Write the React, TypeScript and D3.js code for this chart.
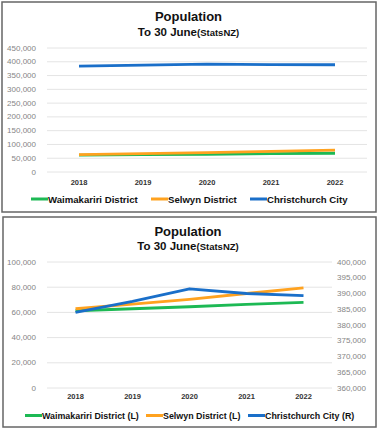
import React from "react";
import * as d3 from "d3";

const years = ["2018", "2019", "2020", "2021", "2022"];
const waimakariri = [61300, 62900, 64500, 66400, 68000];
const selwyn = [62900, 66500, 70400, 75000, 79400];
const christchurch = [384000, 387500, 391500, 390000, 389300];

const topTicks = [0, 50000, 100000, 150000, 200000, 250000, 300000, 350000, 400000, 450000];
const leftTicks = [0, 20000, 40000, 60000, 80000, 100000];
const rightTicks = [360000, 365000, 370000, 375000, 380000, 385000, 390000, 395000, 400000];

const GREEN = "#1db954";
const ORANGE = "#ffa21f";
const BLUE = "#1a6fc9";
const FONT = "'Liberation Sans', Arial, sans-serif";
const fmt = d3.format(",");

function Title({ cx, y1, y2 }: { cx: number; y1: number; y2: number }) {
  return (
    <g fontFamily={FONT} fontWeight="bold" fill="#111" textAnchor="middle">
      <text x={cx} y={y1} fontSize={13}>Population</text>
      <text x={cx} y={y2} fontSize={11.5}>
        To 30 June<tspan fontSize={9.5}>(StatsNZ)</tspan>
      </text>
    </g>
  );
}

function Legend({ y, items }: { y: number; items: { x: number; label: string; color: string; size: number }[] }) {
  return (
    <g fontFamily={FONT} fontWeight="bold" fill="#111">
      {items.map((it) => (
        <g key={it.label}>
          <line x1={it.x} x2={it.x + 17} y1={y} y2={y} stroke={it.color} strokeWidth={3} />
          <text x={it.x + 17} y={y} dominantBaseline="central" fontSize={it.size}>{it.label}</text>
        </g>
      ))}
    </g>
  );
}

function TopChart() {
  const x = d3.scaleBand().domain(years).range([47, 367]);
  const y = d3.scaleLinear().domain([0, 450000]).range([172, 48]);
  const cx = (d: string) => (x(d) as number) + x.bandwidth() / 2;
  const line = (vals: number[]) =>
    d3.line<number>().x((_, i) => cx(years[i])).y((v) => y(v))(vals) as string;
  return (
    <g>
      <rect x={2} y={2} width={374} height={210} fill="#fff" stroke="#666" strokeWidth={1.5} />
      <Title cx={188.5} y1={21} y2={36} />
      {topTicks.map((t) => (
        <g key={t}>
          <line x1={47} x2={367} y1={y(t)} y2={y(t)} stroke="#e4e4e4" strokeWidth={1} />
          <text x={36} y={y(t)} textAnchor="end" dominantBaseline="central" fontFamily={FONT} fontSize={8} fill="#858585">{fmt(t)}</text>
        </g>
      ))}
      {years.map((yr) => (
        <text key={yr} x={cx(yr)} y={182} textAnchor="middle" dominantBaseline="central" fontFamily={FONT} fontWeight="bold" fontSize={7.5} fill="#333">{yr}</text>
      ))}
      <path d={line(waimakariri)} fill="none" stroke={GREEN} strokeWidth={2.8} strokeLinejoin="round" />
      <path d={line(selwyn)} fill="none" stroke={ORANGE} strokeWidth={2.8} strokeLinejoin="round" />
      <path d={line(christchurch)} fill="none" stroke={BLUE} strokeWidth={2.8} strokeLinejoin="round" />
      <Legend
        y={199}
        items={[
          { x: 31, label: "Waimakariri District", color: GREEN, size: 9.6 },
          { x: 151, label: "Selwyn District", color: ORANGE, size: 9.6 },
          { x: 250, label: "Christchurch City", color: BLUE, size: 9.6 },
        ]}
      />
    </g>
  );
}

function BottomChart() {
  const x = d3.scaleBand().domain(years).range([47, 332]);
  const yL = d3.scaleLinear().domain([0, 100000]).range([388, 262]);
  const yR = d3.scaleLinear().domain([360000, 400000]).range([388, 262]);
  const cx = (d: string) => (x(d) as number) + x.bandwidth() / 2;
  const line = (vals: number[], s: d3.ScaleLinear<number, number>) =>
    d3.line<number>().x((_, i) => cx(years[i])).y((v) => s(v))(vals) as string;
  return (
    <g>
      <rect x={3} y={217} width={373} height={210} fill="#fff" stroke="#666" strokeWidth={1.5} />
      <Title cx={188} y1={235.5} y2={249.5} />
      {leftTicks.map((t) => (
        <g key={t}>
          <line x1={47} x2={332} y1={yL(t)} y2={yL(t)} stroke="#e4e4e4" strokeWidth={1} />
          <text x={36} y={yL(t)} textAnchor="end" dominantBaseline="central" fontFamily={FONT} fontSize={8} fill="#858585">{fmt(t)}</text>
        </g>
      ))}
      {rightTicks.map((t) => (
        <text key={t} x={337} y={yR(t)} textAnchor="start" dominantBaseline="central" fontFamily={FONT} fontSize={8} fill="#858585">{fmt(t)}</text>
      ))}
      {years.map((yr) => (
        <text key={yr} x={cx(yr)} y={396} textAnchor="middle" dominantBaseline="central" fontFamily={FONT} fontWeight="bold" fontSize={7.5} fill="#333">{yr}</text>
      ))}
      <path d={line(waimakariri, yL)} fill="none" stroke={GREEN} strokeWidth={2.8} strokeLinejoin="round" />
      <path d={line(selwyn, yL)} fill="none" stroke={ORANGE} strokeWidth={2.8} strokeLinejoin="round" />
      <path d={line(christchurch, yR)} fill="none" stroke={BLUE} strokeWidth={2.8} strokeLinejoin="round" />
      <Legend
        y={415.5}
        items={[
          { x: 25, label: "Waimakariri District (L)", color: GREEN, size: 8.9 },
          { x: 146, label: "Selwyn District (L)", color: ORANGE, size: 8.9 },
          { x: 248, label: "Christchurch City (R)", color: BLUE, size: 8.9 },
        ]}
      />
    </g>
  );
}

export default function App() {
  return (
    <svg
      width={378}
      height={434}
      viewBox="0 0 378 434"
      style={{ position: "absolute", left: 0, top: 0, background: "#fff" }}
    >
      <rect x={0} y={0} width={378} height={434} fill="#fff" />
      <TopChart />
      <BottomChart />
    </svg>
  );
}
